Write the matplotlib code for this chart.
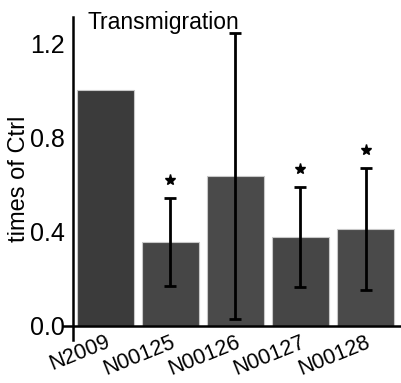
import matplotlib.pyplot as plt
import numpy as np

plt.rcParams['font.family'] = ['Liberation Sans', 'DejaVu Sans']

# valores
muestras = ['N2009', 'N00125', 'N00126', 'N00127', 'N00128']
media = [1.0, 0.356, 0.636, 0.377, 0.411]
error = [0.0, 0.187, 0.607, 0.213, 0.26]
significativo = [False, True, False, True, True]
colores = ['#3b3b3b', '#464646', '#4a4a4a', '#464646', '#4a4a4a']

fig = plt.figure(figsize=(4.01, 3.83), dpi=100)
ax = fig.add_axes([0.157, 0.112, 0.843, 0.843])

x = np.arange(len(muestras))
ax.bar(x, media, width=0.89, color=colores, edgecolor='#c8c8c8', linewidth=0.8, zorder=2)
ax.errorbar(x[1:], media[1:], yerr=error[1:], fmt='none', ecolor='black',
            elinewidth=2, capsize=4, capthick=2, zorder=3)

# estrellas sobre las barras significativas
for i in range(len(muestras)):
    if significativo[i]:
        ax.plot(x[i], media[i] + error[i] + 0.075, marker='*', color='black',
                markersize=8, zorder=4)

ax.set_xlim(-0.654, 4.546)
ax.set_ylim(-0.06, 1.31)
ax.spines['left'].set_position(('data', -0.5))
ax.spines['bottom'].set_position(('data', 0))
ax.spines['top'].set_visible(False)
ax.spines['right'].set_visible(False)
ax.spines['left'].set_linewidth(1.8)
ax.spines['bottom'].set_linewidth(1.8)

ax.set_yticks([0.0, 0.4, 0.8, 1.2])
ax.set_yticklabels(['0.0', '0.4', '0.8', '1.2'], fontsize=18)
ax.tick_params(axis='y', direction='in', length=4, width=1.2, color='white', pad=6)
ax.set_xticks(x)
ax.set_xticklabels(muestras, fontsize=15.5, rotation=22, ha='right', rotation_mode='anchor')
ax.tick_params(axis='x', length=0, pad=4)

ax.set_ylabel('times of Ctrl', fontsize=17, labelpad=0)
ax.text(-0.28, 1.335, 'Transmigration', fontsize=16.5, ha='left', va='top')

fig.savefig('out.png', dpi=100)
